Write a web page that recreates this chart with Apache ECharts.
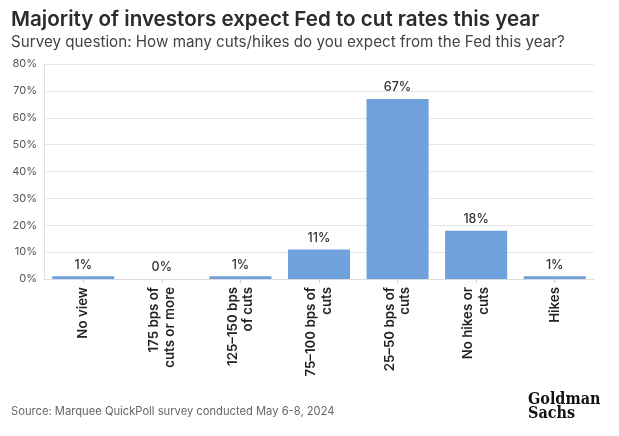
<!DOCTYPE html>
<html><head><meta charset="utf-8">
<script src="https://cdn.jsdelivr.net/npm/echarts@6/dist/echarts.min.js"></script>
<style>html,body{margin:0;padding:0;background:#fff}#c{width:619px;height:436px}</style>
</head><body><div id="c"></div>
<script>
var categories = ["No view", "175 bps of\ncuts or more", "125\u2013150 bps\nof cuts", "75\u2013100 bps of\ncuts", "25\u201350 bps of\ncuts", "No hikes or\ncuts", "Hikes"];
var values = [1, 0, 1, 11, 67, 18, 1];
var yTicks = [0, 10, 20, 30, 40, 50, 60, 70, 80];

var chart = echarts.init(document.getElementById('c'), null, {renderer: 'canvas'});
chart.setOption({
  backgroundColor: '#fff',
  animation: false,
  title: [
    {text: 'Majority of investors expect Fed to cut rates this year', left: 6, top: 4,
     textStyle: {fontFamily: 'Inter', fontSize: 20.6, fontWeight: 600, color: '#2b2b2b'}},
    {text: 'Survey question: How many cuts/hikes do you expect from the Fed this year?', left: 6, top: 30,
     textStyle: {fontFamily: 'Inter', fontSize: 15.2, fontWeight: 400, color: '#444'}},
    {text: 'Source: Marquee QuickPoll survey conducted May 6-8, 2024', left: 6, top: 401,
     textStyle: {fontFamily: 'Inter', fontSize: 11.2, fontWeight: 400, color: '#666'}}
  ],
  graphic: [
    {type: 'text', left: 528, top: 392, style: {text: 'Goldman\nSachs', font: 'bold 16px "DejaVu Serif Condensed", "DejaVu Serif", serif', fill: '#111', lineHeight: 14}}
  ],
  grid: {left: 44, right: 25, top: 64, bottom: 157, containLabel: false},
  xAxis: {
    type: 'category', data: categories,
    axisLine: {show: true, lineStyle: {color: '#dcdcdc', width: 1}},
    axisTick: {show: true, alignWithLabel: true, length: 4, lineStyle: {color: '#cfcfcf'}},
    axisLabel: {rotate: 90, interval: 0, margin: 8, fontFamily: 'Inter', fontSize: 13.3, fontWeight: 600, color: '#222', lineHeight: 15.5, align: 'right', verticalAlign: 'middle'}
  },
  yAxis: {
    type: 'value', min: yTicks[0], max: yTicks[yTicks.length - 1], interval: 10,
    axisLine: {show: true, lineStyle: {color: '#e2e2e2'}},
    axisTick: {show: false},
    splitLine: {lineStyle: {color: '#e6e6e6', width: 1}},
    axisLabel: {formatter: '{value}%', fontFamily: 'Inter', fontSize: 11, color: '#555', margin: 7}
  },
  series: [{
    type: 'bar', data: values, barCategoryGap: '21%',
    itemStyle: {color: '#6fa1dd'},
    label: {show: true, position: 'top', distance: 5, formatter: '{c}%', fontFamily: 'Inter', fontSize: 12.5, fontWeight: 500, color: '#333'}
  }]
});
</script></body></html>
